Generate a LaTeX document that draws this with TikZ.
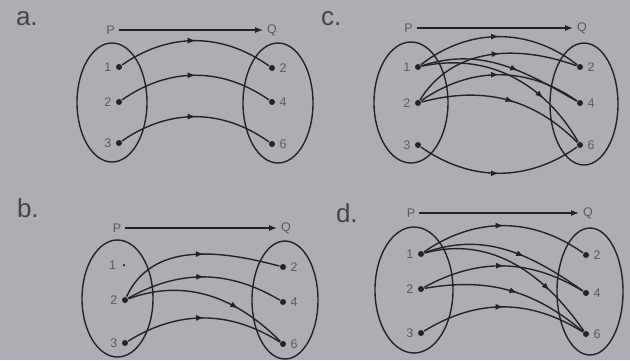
\documentclass[tikz,border=0pt]{standalone}
\usepackage{fontspec}
\setmainfont{Liberation Sans}
\usetikzlibrary{shapes.geometric,arrows.meta,decorations.markings}
\definecolor{paper}{RGB}{172,174,180}
\definecolor{ink}{RGB}{36,36,40}

\begin{document}
\begin{tikzpicture}[x=1pt, y=1pt, >={Latex[length=8pt,width=6pt]}, line width=1.4pt, ink]
    \tikzstyle{set}=[ellipse, draw, line width=1.4pt]
    \tikzstyle{dot}=[circle, fill, inner sep=0pt, minimum size=6pt]
    \tikzstyle{num}=[font=\fontsize{12.5}{14}\selectfont, text=ink!75]
    \tikzstyle{tag}=[font=\fontsize{26}{28}\selectfont, anchor=base west, text=ink!85]
    \tikzset{map/.style={postaction=decorate, decoration={markings, mark=at position #1 with {\arrow{>}}}}, map/.default=0.5}

    \fill[paper] (0,0) rectangle (630,-360);
    \useasboundingbox (0,0) rectangle (630,-360);

    % a.
    \node[tag] (atag) at (12,-25.5) {a.};
    \node[num] (aP) at (110.5,-30) {P};
    \node[num] (aQ) at (272,-30) {Q};
    \draw[->] (aP) -- (aQ);
    \node[set, minimum width=70pt, minimum height=119pt] (aLeft) at (112,-102.5) {};
    \node[set, minimum width=70pt, minimum height=120pt] (aRight) at (278,-103) {};
    \foreach \n/\y in {1/67, 2/102, 3/143}
        \node[dot, label={[num]left:\n}] (a\n) at (119,-\y) {};
    \foreach \n/\y in {2/68, 4/102, 6/144}
        \node[dot, label={[num]right:\n}] (aq\n) at (272,-\y) {};
    \draw[map] (a1) to[bend left=35] (aq2);
    \draw[map] (a2) to[bend left=35] (aq4);
    \draw[map] (a3) to[bend left=35] (aq6);

    % c.
    \node[tag] (ctag) at (317,-25) {c.};
    \node[num] (cP) at (408.5,-28) {P};
    \node[num] (cQ) at (582,-28) {Q};
    \draw[->] (cP) -- (cQ);
    \node[set, minimum width=74pt, minimum height=121pt] (cLeft) at (411,-102.5) {};
    \node[set, minimum width=68pt, minimum height=122pt] (cRight) at (584,-104) {};
    \foreach \n/\y in {1/67, 2/103, 3/145}
        \node[dot, label={[num]left:\n}] (c\n) at (418,-\y) {};
    \foreach \n/\y in {2/67, 4/103, 6/145}
        \node[dot, label={[num]right:\n}] (cq\n) at (580,-\y) {};
    \draw[map] (c1) to[bend left=38] (cq2);
    \draw[map=0.55] (c2) to[out=58, in=160] (cq2);
    \draw[map=0.6] (c1) to[out=18, in=150] (cq4);
    \draw[map] (c2) to[bend left=35] (cq4);
    \draw[map=0.7] (c1) to[out=12, in=120] (cq6);
    \draw[map=0.55] (c2) to[out=15, in=135] (cq6);
    \draw[map] (c3) to[bend right=35] (cq6);

    % b.
    \node[tag] (btag) at (13,-217) {b.};
    \node[num] (bP) at (117,-228) {P};
    \node[num] (bQ) at (286,-228) {Q};
    \draw[->] (bP) -- (bQ);
    \node[set, minimum width=71pt, minimum height=117pt] (bLeft) at (117.5,-298.5) {};
    \node[set, minimum width=66pt, minimum height=118pt] (bRight) at (285,-300) {};
    \node[dot, minimum size=2.5pt, label={[num, label distance=2pt]left:1}] (b1) at (124,-265) {};
    \foreach \n/\y in {2/300, 3/343}
        \node[dot, label={[num]left:\n}] (b\n) at (125,-\y) {};
    \foreach \n/\y in {2/267, 4/302, 6/344}
        \node[dot, label={[num]right:\n}] (bq\n) at (283,-\y) {};
    \draw[map=0.55] (b2) to[out=65, in=165] (bq2);
    \draw[map=0.5] (b2) to[bend left=30] (bq4);
    \draw[map=0.68] (b2) to[out=20, in=135] (bq6);
    \draw[map] (b3) to[bend left=32] (bq6);

    % d.
    \node[tag] (dtag) at (332,-222) {d.};
    \node[num] (dP) at (411,-213) {P};
    \node[num] (dQ) at (588,-213) {Q};
    \draw[->] (dP) -- (dQ);
    \node[set, minimum width=78pt, minimum height=126pt] (dLeft) at (414,-290) {};
    \node[set, minimum width=66pt, minimum height=127pt] (dRight) at (590,-291.5) {};
    \foreach \n/\y in {1/254, 2/289, 3/333}
        \node[dot, label={[num]left:\n}] (d\n) at (421,-\y) {};
    \foreach \n/\y in {2/255, 4/293, 6/334}
        \node[dot, label={[num]right:\n}] (dq\n) at (586,-\y) {};
    \draw[map] (d1) to[bend left=35] (dq2);
    \draw[map=0.6] (d1) to[out=20, in=145] (dq4);
    \draw[map=0.72] (d1) to[out=15, in=125] (dq6);
    \draw[map] (d2) to[bend left=30] (dq4);
    \draw[map=0.55] (d2) to[out=10, in=140] (dq6);
    \draw[map] (d3) to[bend left=32] (dq6);
\end{tikzpicture}
\end{document}
